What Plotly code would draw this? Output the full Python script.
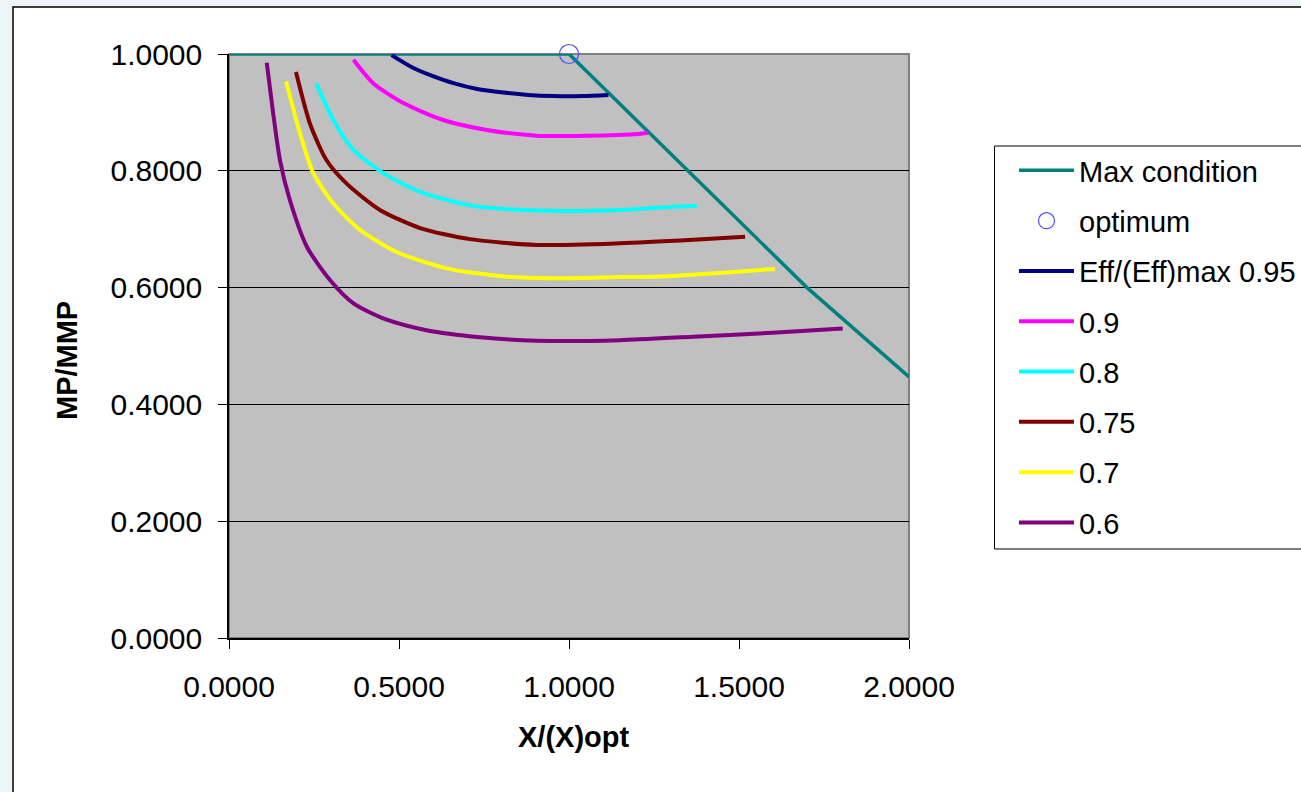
import plotly.graph_objects as go

# ---------------- data ----------------
max_x = [0.0, 0.5, 1.0, 1.35, 1.70, 2.0]
max_y = [1.0, 1.0, 1.0, 0.80, 0.60, 0.447]

opt_x = [1.0]
opt_y = [1.0]

e95_x = [0.478, 0.542, 0.600, 0.660, 0.730, 0.807, 0.880, 0.954, 1.040, 1.116]
e95_y = [0.998, 0.976, 0.962, 0.950, 0.940, 0.934, 0.930, 0.928, 0.928, 0.930]

e90_x = [0.366, 0.424, 0.513, 0.630, 0.758, 0.905, 1.052, 1.204, 1.232]
e90_y = [0.990, 0.950, 0.916, 0.887, 0.870, 0.860, 0.860, 0.863, 0.865]

e80_x = [0.256, 0.307, 0.366, 0.454, 0.562, 0.709, 0.905, 1.150, 1.268, 1.376]
e80_y = [0.950, 0.887, 0.836, 0.796, 0.764, 0.741, 0.732, 0.733, 0.737, 0.740]

e75_x = [0.197, 0.238, 0.287, 0.346, 0.444, 0.562, 0.709, 0.905, 1.150, 1.366, 1.518]
e75_y = [0.969, 0.881, 0.818, 0.778, 0.733, 0.702, 0.683, 0.673, 0.676, 0.682, 0.687]

e70_x = [0.168, 0.209, 0.248, 0.307, 0.385, 0.493, 0.640, 0.807, 0.954, 1.150, 1.268, 1.464, 1.606]
e70_y = [0.953, 0.864, 0.796, 0.744, 0.699, 0.661, 0.633, 0.619, 0.616, 0.618, 0.619, 0.626, 0.632]

e60_x = [0.111, 0.130, 0.150, 0.179, 0.229, 0.297, 0.366, 0.464, 0.581, 0.738, 0.905, 1.150, 1.366, 1.611, 1.805]
e60_y = [0.985, 0.898, 0.818, 0.750, 0.670, 0.613, 0.573, 0.545, 0.527, 0.515, 0.509, 0.510, 0.516, 0.523, 0.530]

x_ticks = [0.0, 0.5, 1.0, 1.5, 2.0]
y_ticks = [0.0, 0.2, 0.4, 0.6, 0.8, 1.0]

# ---------------- figure ----------------
FONT = "Liberation Sans, Arial, sans-serif"
W, H = 1301, 792
ML, MR, MT, MB = 229, 392, 54, 154
PW, PH = W - ML - MR, H - MT - MB


def px_x(p):
    return (p - ML) / PW


def px_y(p):
    return (H - MB - p) / PH


fig = go.Figure()

curves = [
    ("Eff/(Eff)max 0.95", e95_x, e95_y, "#000080"),
    ("0.9", e90_x, e90_y, "#ff00ff"),
    ("0.8", e80_x, e80_y, "#00ffff"),
    ("0.75", e75_x, e75_y, "#800000"),
    ("0.7", e70_x, e70_y, "#ffff00"),
    ("0.6", e60_x, e60_y, "#800080"),
]

fig.add_trace(go.Scatter(x=max_x, y=max_y, mode="lines", name="Max condition",
                         legendgroup="g0",
                         line=dict(color="#008080", width=3.5), cliponaxis=False))
fig.add_trace(go.Scatter(x=opt_x, y=opt_y, mode="markers", name="optimum",
                         legendgroup="g1", cliponaxis=False,
                         marker=dict(symbol="circle-open", size=19,
                                     color="#4d4dff", line=dict(width=1.2, color="#4d4dff"))))
for i, (nm, xs, ys, col) in enumerate(curves):
    fig.add_trace(go.Scatter(x=xs, y=ys, mode="lines", name=nm, legendgroup=f"c{i}",
                             line=dict(color=col, width=4, shape="spline", smoothing=0.7)))

shapes = [
    # chart frame
    dict(type="rect", xref="paper", yref="paper", layer="below",
         x0=px_x(13), x1=px_x(1330), y0=px_y(830), y1=px_y(7),
         fillcolor="white", line=dict(color="black", width=1.5)),
    # plot area
    dict(type="rect", xref="paper", yref="paper", layer="below",
         x0=0, x1=1, y0=0, y1=1,
         fillcolor="#c0c0c0", line=dict(color="#808080", width=2)),
    # legend box
    dict(type="rect", xref="paper", yref="paper", layer="below",
         x0=px_x(994.5), x1=px_x(1340), y0=px_y(549), y1=px_y(146),
         fillcolor="white", line=dict(color="black", width=1)),
]

annotations = [
    dict(text="<b>X/(X)opt</b>", xref="paper", yref="paper", x=px_x(573), y=px_y(737),
         showarrow=False, xanchor="center", yanchor="middle",
         font=dict(family=FONT, size=29, color="black")),
    dict(text="<b>MP/MMP</b>", xref="paper", yref="paper", x=px_x(67), y=px_y(361),
         showarrow=False, xanchor="center", yanchor="middle", textangle=-90,
         font=dict(family=FONT, size=29, color="black")),
]

fig.update_layout(
    width=W, height=H,
    margin=dict(l=ML, r=MR, t=MT, b=MB, autoexpand=False),
    paper_bgcolor="#eef5f9",
    plot_bgcolor="#c0c0c0",
    font=dict(family=FONT, size=30, color="black"),
    shapes=shapes,
    annotations=annotations,
    showlegend=True,
    legend=dict(x=px_x(1014), y=px_y(145), xanchor="left", yanchor="top",
                bgcolor="rgba(0,0,0,0)", borderwidth=0,
                font=dict(family=FONT, size=29, color="black"),
                traceorder="grouped", tracegroupgap=9.6, itemwidth=55),
    xaxis=dict(range=[0, 2], tickvals=x_ticks, tickformat=".4f",
               showgrid=False, zeroline=False, showline=True, linecolor="black", linewidth=1.5,
               ticks="outside", ticklen=9, tickcolor="black", ticklabelstandoff=12,
               tickfont=dict(size=30)),
    yaxis=dict(range=[0, 1], tickvals=y_ticks, tickformat=".4f",
               showgrid=True, gridcolor="black", gridwidth=1, zeroline=False,
               showline=True, linecolor="black", linewidth=1.5,
               ticks="outside", ticklen=9, tickcolor="black", ticklabelstandoff=10,
               tickfont=dict(size=30)),
)

fig.write_html("out.html", config={"displayModeBar": False},
               post_script="document.body.style.margin='0';document.body.style.overflow='hidden';")
